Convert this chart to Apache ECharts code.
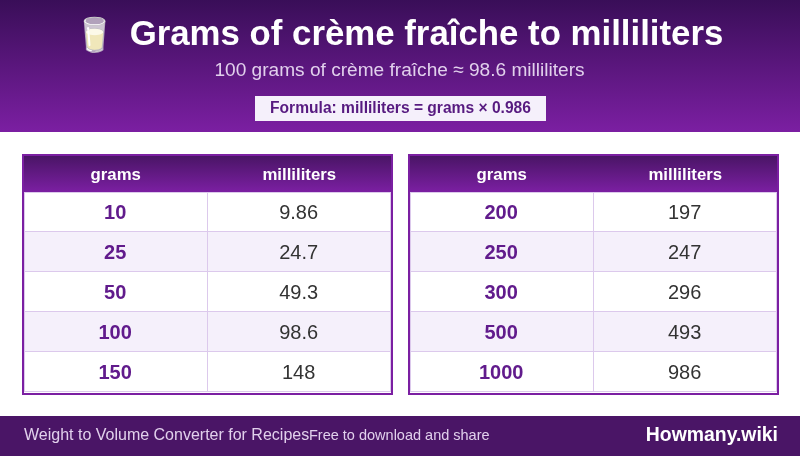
<!DOCTYPE html>
<html><head><meta charset="utf-8">
<script src="https://cdn.jsdelivr.net/npm/echarts@6/dist/echarts.min.js"></script>
<style>html,body{margin:0;padding:0;background:#fff}#c{width:800px;height:456px}</style>
</head><body><div id="c"></div>
<script>
const titleText = 'Grams of crème fraîche to milliliters';
const subtitleText = '100 grams of crème fraîche ≈ 98.6 milliliters';
const formulaText = 'Formula: milliliters = grams × 0.986';
const footerLeft = 'Weight to Volume Converter for Recipes';
const footerMiddle = 'Free to download and share';
const footerRight = 'Howmany.wiki';
const columns = ['grams', 'milliliters'];
const gramsLeft = ['10', '25', '50', '100', '150'];
const mlLeft = ['9.86', '24.7', '49.3', '98.6', '148'];
const gramsRight = ['200', '250', '300', '500', '1000'];
const mlRight = ['197', '247', '296', '493', '986'];

const FONT = '"Liberation Sans", Arial, sans-serif';
const DARK = '#4a1566', MID = '#7b1fa2', RULE = '#dcc9ec';
const vGrad = (a, b) => new echarts.graphic.LinearGradient(0, 0, 0, 1, [{offset: 0, color: a}, {offset: 1, color: b}]);

function renderCell(params, api) {
  const col = api.value(0), row = api.value(1);
  const c = api.coord([col, row]);
  const s = api.size([1, 1]);
  const x = Math.round(c[0] - s[0] / 2), y = Math.round(c[1] - s[1] / 2);
  const w = Math.round(c[0] + s[0] / 2) - x, h = Math.round(s[1]);
  const line = (x1, y1, x2, y2) => ({type: 'line', shape: {x1, y1, x2, y2}, style: {stroke: RULE, lineWidth: 1}});
  const rules = [line(x, y + h - .5, x + w, y + h - .5), line(x + w - .5, y, x + w - .5, y + h)];
  if (col === 0) rules.push(line(x + .5, y, x + .5, y + h));
  if (row === 0) rules.push(line(x, y + .5, x + w, y + .5));
  return {
    type: 'group',
    children: [
      {type: 'rect', shape: {x, y, width: w, height: h}, style: {fill: row % 2 ? '#f5f0fb' : '#ffffff'}},
      ...rules,
      {type: 'text', style: {x: c[0] - .6, y: c[1] + 1, text: api.value(2), align: 'center', verticalAlign: 'middle',
        font: (col ? '' : 'bold ') + '20px ' + FONT, fill: col ? '#333333' : '#611b8c'}}
    ]
  };
}
const cells = (g, m) => g.flatMap((v, i) => [[0, i, v], [1, i, m[i]]]);
const rowIdx = gramsLeft.map((_, i) => String(i));
const tables = [{left: 24, g: gramsLeft, m: mlLeft}, {left: 410, g: gramsRight, m: mlRight}];

const text = (x, y, t, font, fill, align) => ({type: 'text', z: 5, style: {x, y, text: t, font: font + ' ' + FONT, fill, align: align || 'center', verticalAlign: 'middle'}});
const rect = (x, y, w, h, fill, extra) => ({type: 'rect', z: -10, shape: {x, y, width: w, height: h}, style: Object.assign({fill}, extra || {})});

const graphicEls = [
  rect(0, 0, 800, 132, vGrad('#390e58', MID)),
  rect(255, 96, 291, 25, '#f5f0fb'),
  rect(0, 416, 800, 40, DARK),
  ...tables.flatMap(t => [
    rect(t.left - 1, 155, 369, 239, 'rgba(0,0,0,0)', {stroke: MID, lineWidth: 2}),
    rect(t.left, 156, 367, 36, vGrad(DARK, MID))
  ]),
  {type: 'text', z: 5, style: {x: 95, y: 36, text: '\u{1F95B}', font: '33px "Noto Color Emoji", ' + FONT, align: 'center', verticalAlign: 'middle'}},
  text(426.5, 35, titleText, 'bold 34.8px', '#ffffff'),
  text(399.5, 71, subtitleText, '19.1px', '#e1d0ec'),
  text(400.5, 108.5, formulaText, 'bold 15.6px', '#571a80'),
  text(24, 436, footerLeft, '16px', '#e1d0ec', 'left'),
  text(309, 436, footerMiddle, '14.5px', '#e1d0ec', 'left'),
  text(778, 436, footerRight, 'bold 19.4px', '#ffffff', 'right')
];

const chart = echarts.init(document.getElementById('c'), null, {renderer: 'canvas'});
chart.setOption({
  animation: false,
  backgroundColor: '#ffffff',
  grid: tables.map(t => ({left: t.left, width: 367, top: 192, height: 200})),
  xAxis: tables.map((t, i) => ({
    type: 'category', gridIndex: i, position: 'top', data: columns,
    axisLine: {show: false}, axisTick: {show: false}, splitLine: {show: false},
    axisLabel: {color: '#ffffff', fontFamily: FONT, fontWeight: 'bold', fontSize: 16.8, margin: 8}
  })),
  yAxis: tables.map((t, i) => ({
    type: 'category', gridIndex: i, inverse: true, data: rowIdx, show: false
  })),
  graphic: {elements: graphicEls},
  series: tables.map((t, i) => ({
    type: 'custom', xAxisIndex: i, yAxisIndex: i, clip: false,
    encode: {x: 0, y: 1}, renderItem: renderCell,
    data: cells(t.g, t.m)
  }))
});
</script></body></html>
